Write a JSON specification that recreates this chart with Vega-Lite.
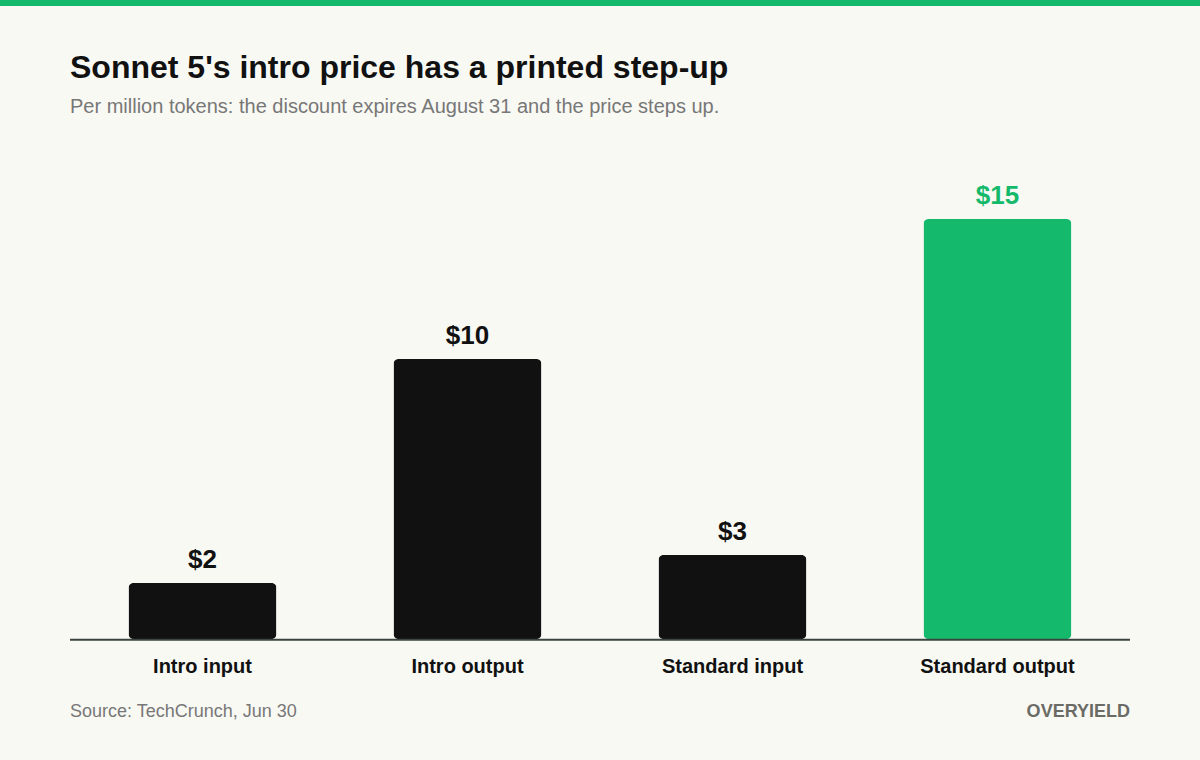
{
  "$schema": "https://vega.github.io/schema/vega-lite/v6.json",
  "autosize": {"type": "none"},
  "width": 1200,
  "height": 639,
  "padding": {"left": 0, "top": 0, "right": 0, "bottom": 121},
  "background": "#f9f9f4",
  "config": {
    "view": {"stroke": null},
    "font": "Liberation Sans"
  },
  "title": {
    "text": "Sonnet 5's intro price has a printed step-up",
    "subtitle": "Per million tokens: the discount expires August 31 and the price steps up.",
    "anchor": "start",
    "frame": "group",
    "dx": 70,
    "offset": -118,
    "font": "Liberation Sans",
    "fontSize": 32,
    "fontWeight": "bold",
    "color": "#111111",
    "subtitleFont": "Liberation Sans",
    "subtitleFontSize": 20,
    "subtitleColor": "#777777",
    "subtitlePadding": 12
  },
  "datasets": {
    "prices": [
      {"label": "Intro input", "value": 2, "text": "$2"},
      {"label": "Intro output", "value": 10, "text": "$10"},
      {"label": "Standard input", "value": 3, "text": "$3"},
      {"label": "Standard output", "value": 15, "text": "$15"}
    ],
    "notes": [
      {"source": "Source: TechCrunch, Jun 30", "brand": "OVERYIELD"}
    ]
  },
  "layer": [
    {
      "data": {"name": "prices"},
      "mark": {"type": "bar", "cornerRadius": 5},
      "encoding": {
        "x": {
          "field": "label",
          "type": "nominal",
          "sort": null,
          "scale": {"paddingInner": 0.4415, "paddingOuter": 0.485},
          "axis": {
            "title": null,
            "domain": false,
            "ticks": false,
            "labelAngle": 0,
            "labelFont": "Liberation Sans",
            "labelFontSize": 20,
            "labelFontWeight": "bold",
            "labelColor": "#111111",
            "labelPadding": 17
          }
        },
        "y": {
          "field": "value",
          "type": "quantitative",
          "scale": {"domain": [0, 22.821], "nice": false, "zero": true},
          "axis": null
        },
        "color": {
          "condition": {"test": "datum.label === 'Standard output'", "value": "#15b96c"},
          "value": "#111111"
        }
      }
    },
    {
      "data": {"name": "prices"},
      "mark": {"type": "text", "baseline": "alphabetic", "dy": -15, "fontSize": 26, "fontWeight": "bold", "font": "Liberation Sans"},
      "encoding": {
        "x": {"field": "label", "type": "nominal", "sort": null},
        "y": {"field": "value", "type": "quantitative"},
        "text": {"field": "text"},
        "color": {
          "condition": {"test": "datum.label === 'Standard output'", "value": "#15b96c"},
          "value": "#111111"
        }
      }
    },
    {
      "data": {"values": [{}]},
      "mark": {"type": "rule", "color": "#15b96c", "strokeWidth": 6},
      "encoding": {
        "y": {"datum": 22.714, "type": "quantitative"}
      }
    },
    {
      "data": {"values": [{}]},
      "mark": {"type": "rule", "color": "#3a4540", "strokeWidth": 2},
      "encoding": {
        "y": {"datum": -0.03, "type": "quantitative"},
        "x": {"datum": "Intro input", "type": "nominal", "bandPosition": -0.3953},
        "x2": {"datum": "Standard output", "bandPosition": 1.3953}
      }
    },
    {
      "data": {"name": "notes"},
      "mark": {"type": "text", "align": "left", "baseline": "middle", "fontSize": 18, "color": "#777777", "font": "Liberation Sans"},
      "encoding": {
        "x": {"datum": "Intro input", "type": "nominal", "bandPosition": -0.3953},
        "y": {"datum": -2.607, "type": "quantitative"},
        "text": {"field": "source"}
      }
    },
    {
      "data": {"name": "notes"},
      "mark": {"type": "text", "align": "right", "baseline": "middle", "fontSize": 18, "fontWeight": "bold", "color": "#6b6b66", "font": "Liberation Sans"},
      "encoding": {
        "x": {"datum": "Standard output", "type": "nominal", "bandPosition": 1.3953},
        "y": {"datum": -2.607, "type": "quantitative"},
        "text": {"field": "brand"}
      }
    }
  ]
}
